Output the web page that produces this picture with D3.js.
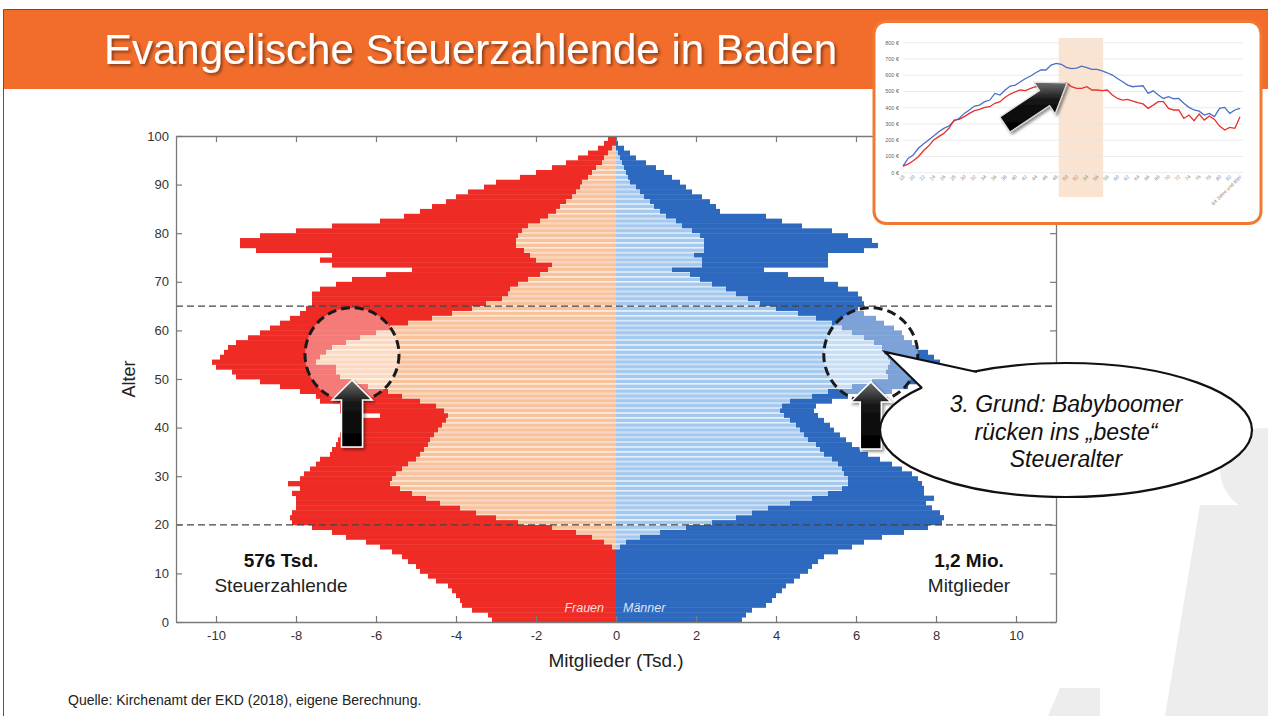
<!DOCTYPE html>
<html>
<head>
<meta charset="utf-8">
<script src="https://cdn.jsdelivr.net/npm/d3@7"></script>
<style>
  body { margin: 0; background: #fff; }
  svg text { font-family: "Liberation Sans", Arial, sans-serif; }
</style>
</head>
<body>
<div id="chart"></div>
<script>
// ages 0..99, one bar per year (values in Tsd.)
var ages = d3.range(0, 100);

var womenMembers = [3.1,3.2,3.6,3.85,3.9,4.0,4.1,4.2,4.5,4.7,
  4.9,5.0,5.2,5.35,5.6,5.9,6.25,6.75,7.1,7.6,
  8.1,8.15,8.1,8.0,8.0,8.0,8.1,7.9,8.2,7.9,
  7.8,7.65,7.5,7.4,7.15,7.1,7.0,6.95,6.9,6.85,
  6.8,6.7,5.9,6.9,6.9,7.4,7.5,7.9,8.4,8.9,
  9.5,9.6,10.0,10.1,9.9,9.8,9.7,9.5,9.2,8.9,
  8.65,8.4,8.15,7.9,7.75,7.6,7.6,7.6,7.4,7.0,
  6.6,5.75,5.1,7.1,7.4,7.1,9.0,9.4,9.4,8.9,
  8.0,7.1,5.9,5.3,4.9,4.6,4.25,4.0,3.7,3.3,
  3.0,2.4,2.0,1.6,1.25,0.95,0.7,0.45,0.3,0.2];

var womenTaxpayers = [0,0,0,0,0,0,0,0,0,0,
  0,0,0,0,0,0.1,0.3,0.6,1.0,1.6,
  2.45,3.0,3.5,3.9,4.4,4.75,5.1,5.4,5.65,5.6,
  5.5,5.35,5.2,5.0,4.9,4.8,4.7,4.65,4.55,4.45,
  4.35,4.25,4.2,4.3,4.5,4.9,5.35,5.7,6.2,6.6,
  6.9,7.0,7.0,7.5,7.4,7.25,7.1,6.75,6.4,6.0,
  5.65,5.2,4.6,4.1,3.6,3.25,2.85,2.7,2.65,2.45,
  2.2,1.9,1.7,1.6,2.0,2.15,2.3,2.5,2.5,2.45,
  2.35,2.2,1.9,1.7,1.5,1.4,1.25,1.1,1.0,0.9,
  0.85,0.7,0.6,0.5,0.35,0.3,0.2,0.1,0,0];

var menMembers = [3.15,3.25,3.4,3.75,3.9,4.0,4.15,4.25,4.45,4.6,
  4.8,4.9,5.05,5.2,5.55,5.9,6.2,6.65,7.2,7.8,
  8.15,8.2,8.1,7.9,7.75,7.95,7.7,7.7,7.65,7.55,
  7.4,7.15,6.9,6.6,6.3,6.1,5.9,5.75,5.6,5.45,
  5.35,5.2,5.05,4.95,5.0,5.4,5.8,6.9,7.3,7.6,
  7.9,8.0,8.05,8.1,7.95,7.8,7.55,7.4,7.2,7.15,
  6.95,6.7,6.5,6.2,6.05,6.2,6.15,6.05,5.8,5.55,
  5.2,4.3,3.7,5.3,5.3,5.3,6.2,6.55,6.4,5.8,
  5.4,4.65,4.15,3.75,2.6,2.5,2.35,2.15,1.9,1.75,
  1.6,1.4,1.2,1.0,0.75,0.5,0.35,0.2,0.05,0];

var menTaxpayers = [0,0,0,0,0,0,0,0,0,0,
  0,0,0,0,0,0.1,0.25,0.6,1.1,1.75,
  2.4,3.0,3.4,3.8,4.35,4.9,5.3,5.65,5.8,5.8,
  5.7,5.65,5.55,5.4,5.2,5.1,5.0,4.8,4.7,4.6,
  4.5,4.35,4.2,4.1,4.15,4.35,4.9,5.3,5.9,6.4,
  6.8,6.75,6.8,6.85,6.8,6.7,6.65,6.45,6.2,5.9,
  5.65,5.4,5.0,4.55,4.0,3.6,3.3,3.0,2.75,2.4,
  2.1,1.85,1.4,2.15,2.15,1.95,2.2,2.2,2.2,2.1,
  1.9,1.65,1.5,1.25,1.1,0.95,0.85,0.7,0.6,0.5,
  0.35,0.3,0.25,0.2,0.15,0.1,0.05,0,0,0];

var xTicks = [-10,-8,-6,-4,-2,0,2,4,6,8,10];
var yTicks = [0,10,20,30,40,50,60,70,80,90,100];
var refAges = [20, 65];

// inset: average church tax per age (EUR)
var insetAges = d3.range(18, 85);
var insetMen = [41,88,109,150,176,201,226,252,273,287,318,334,365,386,410,416,437,447,488,478,
  509,533,539,560,580,595,615,632,632,662,673,667,648,640,644,656,646,636,636,626,
  615,601,580,560,539,529,533,535,488,504,478,457,468,455,457,427,402,386,379,355,
  365,345,396,402,365,386,396];
var insetWomen = [41,53,74,98,135,164,201,222,242,273,324,328,345,365,382,390,402,406,427,437,
  464,484,498,509,505,519,529,533,539,554,539,543,554,529,519,519,529,509,509,505,
  509,478,457,447,451,441,431,423,396,416,437,437,396,386,386,334,355,320,361,324,
  349,328,287,263,279,273,345];
var insetTicks = [0,100,200,300,400,500,600,700,800];
var insetLabels = ["18","20","22","24","26","28","30","32","34","36","38","40","42","44","46","48","50",
  "52","54","56","58","60","62","64","66","68","70","72","74","76","78","80","82","84 Jahre und älter"];
var highlightAges = [48.5, 57.2];

var width = 1268, height = 716;

var svg = d3.select("#chart").append("svg")
    .attr("width", width)
    .attr("height", height);

var defs = svg.append("defs");
defs.append("filter").attr("id", "shadow")
    .append("feDropShadow").attr("dx", 2).attr("dy", 2).attr("stdDeviation", 1.5)
    .attr("flood-color", "#000").attr("flood-opacity", 0.45);
var grad = defs.append("linearGradient").attr("id", "arrowGrad")
    .attr("x1", 0).attr("y1", 0).attr("x2", 0).attr("y2", 1);
grad.append("stop").attr("offset", 0).attr("stop-color", "#707070");
grad.append("stop").attr("offset", 0.35).attr("stop-color", "#151515");
grad.append("stop").attr("offset", 1).attr("stop-color", "#000");

// watermark figure in the background
svg.append("circle").attr("cx", 1262).attr("cy", 470).attr("r", 42).attr("fill", "#ededed");
svg.append("path").attr("d", "M1200,505L1268,505L1268,716L1165,716Z").attr("fill", "#ededed");
svg.append("path").attr("d", "M1060,688L1100,688L1100,716L1048,716Z").attr("fill", "#ededed");

// slide frame + title bar
svg.append("rect").attr("x", 3).attr("y", 10).attr("width", 1265).attr("height", 79).attr("fill", "#f26d2b");
svg.append("path").attr("d", "M3.5,716V9.5H1268").attr("fill", "none").attr("stroke", "#555");
svg.append("text").attr("x", 104).attr("y", 64)
    .attr("fill", "#fff").style("font-size", "42px")
    .attr("filter", "url(#shadow)")
    .text("Evangelische Steuerzahlende in Baden");

// pyramid
var x = d3.scaleLinear().domain([-11, 11]).range([176, 1056]);
var y = d3.scaleLinear().domain([0, 100]).range([622, 136]);
var band = y(0) - y(1);

var g = svg.append("g");

function drawSide(members, taxpayers, sign, solid, stripe, gap) {
  g.append("g").selectAll("rect").data(ages).enter().append("rect")
    .attr("x", function(a) { return Math.min(x(0), x(sign * members[a])); })
    .attr("y", function(a) { return y(a + 1); })
    .attr("width", function(a) { return Math.abs(x(sign * members[a]) - x(0)); })
    .attr("height", band + 0.4)
    .attr("fill", solid);
  g.append("g").selectAll("rect").data(ages).enter().append("rect")
    .attr("x", function(a) { return Math.min(x(0), x(sign * taxpayers[a])); })
    .attr("y", function(a) { return y(a + 1); })
    .attr("width", function(a) { return Math.abs(x(sign * taxpayers[a]) - x(0)); })
    .attr("height", band + 0.2)
    .attr("fill", gap);
  g.append("g").selectAll("rect").data(ages).enter().append("rect")
    .attr("x", function(a) { return Math.min(x(0), x(sign * taxpayers[a])); })
    .attr("y", function(a) { return y(a + 1) + 0.8; })
    .attr("width", function(a) { return Math.abs(x(sign * taxpayers[a]) - x(0)); })
    .attr("height", band - 1.6)
    .attr("fill", stripe);
}
drawSide(womenMembers, womenTaxpayers, -1, "#ee2b24", "#f8c39a", "#fdeee2");
drawSide(menMembers, menTaxpayers, 1, "#2d69bf", "#a3c9ef", "#eaf3fc");

// dashed reference lines at 20 and 65
g.selectAll(".ref").data(refAges).enter().append("line")
    .attr("x1", x(-11)).attr("x2", x(11))
    .attr("y1", function(d) { return y(d); }).attr("y2", function(d) { return y(d); })
    .attr("stroke", "#444").attr("stroke-width", 1.3).attr("stroke-dasharray", "7,4");

// axes: ticks pointing inward on all four sides
var axisColor = "#7a7a7a";
var plain = function(d) { return String(d); };
var xB = g.append("g").attr("transform", "translate(0," + y(0) + ")")
    .call(d3.axisBottom(x).tickValues(xTicks).tickSize(-6).tickSizeOuter(0).tickPadding(9).tickFormat(plain));
var xT = g.append("g").attr("transform", "translate(0," + y(100) + ")")
    .call(d3.axisTop(x).tickValues(xTicks).tickSize(-6).tickSizeOuter(0).tickFormat(""));
var yL = g.append("g").attr("transform", "translate(" + x(-11) + ",0)")
    .call(d3.axisLeft(y).tickValues(yTicks).tickSize(-6).tickSizeOuter(0).tickPadding(7).tickFormat(plain));
var yR = g.append("g").attr("transform", "translate(" + x(11) + ",0)")
    .call(d3.axisRight(y).tickValues(yTicks).tickSize(-6).tickSizeOuter(0).tickFormat(""));
[xB, xT, yL, yR].forEach(function(ax) {
  ax.select(".domain").attr("stroke", axisColor).attr("stroke-width", 1.3);
  ax.selectAll(".tick line").attr("stroke", axisColor).attr("stroke-width", 1.2);
  ax.selectAll("text").attr("fill", "#333").style("font-size", "13px")
    .style("font-family", "'Liberation Sans', Arial, sans-serif");
});

svg.append("text").attr("transform", "translate(135," + y(50) + ") rotate(-90)")
    .attr("text-anchor", "middle").attr("fill", "#222").style("font-size", "18px").text("Alter");
svg.append("text").attr("x", x(0)).attr("y", 667)
    .attr("text-anchor", "middle").attr("fill", "#222").style("font-size", "19px").text("Mitglieder (Tsd.)");

svg.append("text").attr("x", x(0) - 12).attr("y", y(0) - 10).attr("text-anchor", "end")
    .attr("fill", "#fff").attr("fill-opacity", 0.85).style("font-size", "12.5px").style("font-style", "italic").text("Frauen");
svg.append("text").attr("x", x(0) + 7).attr("y", y(0) - 10)
    .attr("fill", "#fff").attr("fill-opacity", 0.85).style("font-size", "12.5px").style("font-style", "italic").text("Männer");

svg.append("text").attr("x", 281).attr("y", 567).attr("text-anchor", "middle")
    .attr("fill", "#111").style("font-size", "19px").style("font-weight", "bold").text("576 Tsd.");
svg.append("text").attr("x", 281).attr("y", 592).attr("text-anchor", "middle")
    .attr("fill", "#222").style("font-size", "19px").text("Steuerzahlende");
svg.append("text").attr("x", 969).attr("y", 567).attr("text-anchor", "middle")
    .attr("fill", "#111").style("font-size", "19px").style("font-weight", "bold").text("1,2 Mio.");
svg.append("text").attr("x", 969).attr("y", 592).attr("text-anchor", "middle")
    .attr("fill", "#222").style("font-size", "19px").text("Mitglieder");

// highlight circles on the babyboomer cohort
var circles = [{v: -6.6, age: 55}, {v: 6.37, age: 55}];
svg.selectAll(".hl").data(circles).enter().append("circle")
    .attr("cx", function(d) { return x(d.v); })
    .attr("cy", function(d) { return y(d.age); })
    .attr("r", 47)
    .attr("fill", "#fff").attr("fill-opacity", 0.38)
    .attr("stroke", "#1a1a1a").attr("stroke-width", 3).attr("stroke-dasharray", "9,5");

function arrowPath(x0, y0, x1, y1, sw, hw, hl) {
  var dx = x1 - x0, dy = y1 - y0, len = Math.sqrt(dx * dx + dy * dy);
  var ux = dx / len, uy = dy / len, px = -uy, py = ux;
  var bx = x1 - ux * hl, by = y1 - uy * hl;
  var pts = [[x0 + px * sw, y0 + py * sw], [bx + px * sw, by + py * sw], [bx + px * hw, by + py * hw],
    [x1, y1], [bx - px * hw, by - py * hw], [bx - px * sw, by - py * sw], [x0 - px * sw, y0 - py * sw]];
  return "M" + pts.map(function(p) { return p[0].toFixed(1) + "," + p[1].toFixed(1); }).join("L") + "Z";
}
var arrows = [{v: -6.6, from: 36, to: 49.8}, {v: 6.37, from: 35.6, to: 49.4}];
svg.selectAll(".arr").data(arrows).enter().append("path")
    .attr("d", function(d) { return arrowPath(x(d.v), y(d.from), x(d.v), y(d.to), 10.5, 20, 20); })
    .attr("fill", "url(#arrowGrad)").attr("stroke", "#fff").attr("stroke-width", 1.5)
    .attr("filter", "url(#shadow)");

// speech bubble
var bub = {cx: 1066, cy: 430, rx: 186, ry: 67};
svg.append("ellipse").attr("cx", bub.cx).attr("cy", bub.cy).attr("rx", bub.rx).attr("ry", bub.ry)
    .attr("fill", "#fff").attr("stroke", "#111").attr("stroke-width", 2.2);
var tailA = [977, 372], tailTip = [885, 352], tailB = [922, 388];
svg.append("path")
    .attr("d", "M" + tailA + "L" + tailTip + "L" + tailB + "L930,397L980,383Z")
    .attr("fill", "#fff");
svg.append("path")
    .attr("d", "M" + tailA + "L" + tailTip + "L" + tailB)
    .attr("fill", "none").attr("stroke", "#111").attr("stroke-width", 2.2).attr("stroke-linejoin", "miter");
var bubbleLines = ["3. Grund: Babyboomer", "rücken ins „beste“", "Steueralter"];
svg.selectAll(".bl").data(bubbleLines).enter().append("text")
    .attr("x", bub.cx).attr("y", function(d, i) { return 412 + i * 27.5; })
    .attr("text-anchor", "middle").attr("fill", "#111")
    .style("font-size", "23px").style("font-style", "italic")
    .text(function(d) { return d; });

// source
svg.append("text").attr("x", 68).attr("y", 705).attr("fill", "#222").style("font-size", "14px")
    .text("Quelle: Kirchenamt der EKD (2018), eigene Berechnung.");

// inset line chart
var inset = svg.append("g");
inset.append("rect").attr("x", 874).attr("y", 21.5).attr("width", 387).attr("height", 202).attr("rx", 12)
    .attr("fill", "#fff").attr("stroke", "#f07a33").attr("stroke-width", 3);
var ix = d3.scaleLinear().domain([18, 84]).range([903, 1240]);
var iy = d3.scaleLinear().domain([0, 800]).range([172.7, 42.7]);
inset.append("rect").attr("x", ix(highlightAges[0])).attr("y", 38)
    .attr("width", ix(highlightAges[1]) - ix(highlightAges[0])).attr("height", 159)
    .attr("fill", "#f9dcc6").attr("fill-opacity", 0.8);
inset.selectAll(".ig").data(insetTicks).enter().append("line")
    .attr("x1", 903).attr("x2", 1243)
    .attr("y1", function(d) { return iy(d); }).attr("y2", function(d) { return iy(d); })
    .attr("stroke", "#e6e6e6").attr("stroke-width", 0.8);
inset.selectAll(".it").data(insetTicks).enter().append("text")
    .attr("x", 899).attr("y", function(d) { return iy(d) + 1.8; })
    .attr("text-anchor", "end").attr("fill", "#666").style("font-size", "5.5px")
    .text(function(d) { return d + " €"; });
inset.selectAll(".ixl").data(insetLabels).enter().append("text")
    .attr("transform", function(d, i) { return "translate(" + (ix(18 + 2 * i) + 2) + ",177) rotate(-45)"; })
    .attr("text-anchor", "end").attr("fill", "#888").style("font-size", "5px")
    .text(function(d) { return d; });
var iline = d3.line().x(function(d, i) { return ix(insetAges[i]); }).y(function(d) { return iy(d); });
inset.append("path").attr("d", iline(insetMen)).attr("fill", "none").attr("stroke", "#4a6fc8").attr("stroke-width", 1.3);
inset.append("path").attr("d", iline(insetWomen)).attr("fill", "none").attr("stroke", "#e8302c").attr("stroke-width", 1.3);
inset.append("path")
    .attr("d", arrowPath(1005, 124.5, 1067, 83, 9, 19, 27))
    .attr("fill", "url(#arrowGrad)").attr("stroke", "#ddd").attr("stroke-width", 1.2)
    .attr("filter", "url(#shadow)");
</script>
</body>
</html>
